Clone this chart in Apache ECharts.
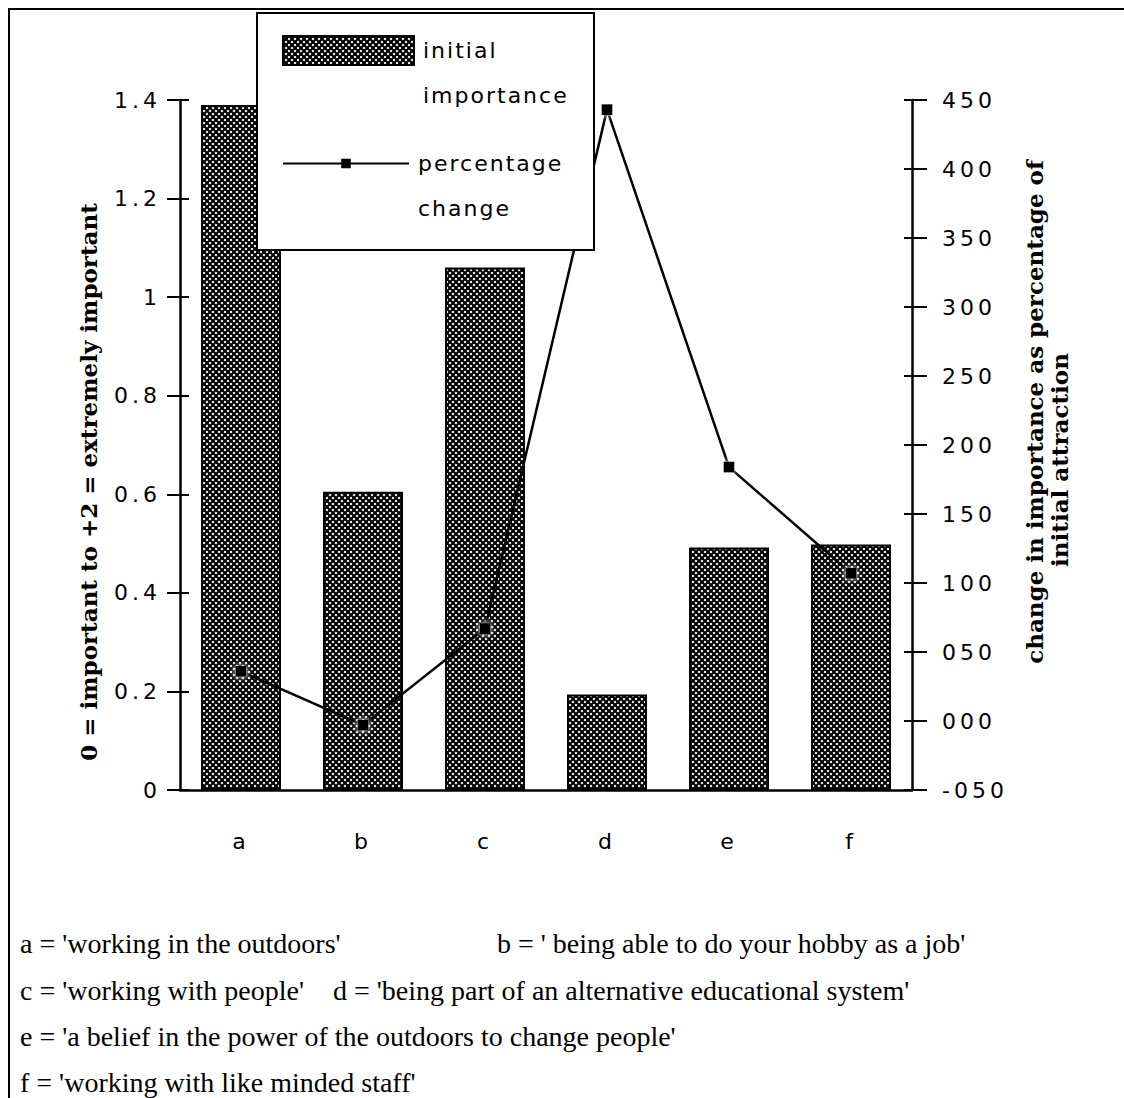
<!DOCTYPE html>
<html>
<head>
<meta charset="utf-8">
<script src="https://cdn.jsdelivr.net/npm/echarts@6/dist/echarts.min.js"></script>
<style>
  html, body { margin: 0; padding: 0; background: #fff; }
  #chart { width: 1124px; height: 1098px; }
  /* wide tracking for the axis tick labels and the legend text */
  #chart text[style*="Verdana"] { letter-spacing: 4px; }
  #chart text[style*="Geneva"] { letter-spacing: 2px; }
</style>
</head>
<body>
<div id="chart"></div>
<script>
// ---- data ----
const categories = ['a', 'b', 'c', 'd', 'e', 'f'];
const initialImportance = [1.39, 0.605, 1.06, 0.194, 0.492, 0.498];
const percentageChange = [36, -3, 67, 443, 184, 107];
const leftTickLabels = ['0', '0.2', '0.4', '0.6', '0.8', '1', '1.2', '1.4'];
const rightTickLabels = ['-050', '000', '050', '100', '150', '200', '250', '300', '350', '400', '450'];
const seriesNames = ['initial importance', 'percentage change'];
const legendLabels = ['initial\nimportance', 'percentage\nchange'];
const leftTitle = '0 = important to +2 = extremely important';
const rightTitle = ['change in importance as percentage of', 'initial attraction'];
const notes = [
  ["a = 'working in the outdoors'", "b = ' being able to do your hobby as a job'"],
  ["c = 'working with people'", "d = 'being part of an alternative educational system'"],
  ["e = 'a belief in the power of the outdoors to change people'"],
  ["f = 'working with like minded staff'"]
];

// ---- crosshatch tile used to fill the bars ----
function hatchTile() {
  const c = document.createElement('canvas');
  c.width = 6; c.height = 6;
  const g = c.getContext('2d');
  g.fillStyle = '#fff';
  g.fillRect(0, 0, 6, 6);
  g.strokeStyle = '#000';
  g.lineWidth = 2.1;
  for (const k of [-6, 0, 6]) {
    g.beginPath(); g.moveTo(k - 1, -1); g.lineTo(k + 7, 7); g.stroke();
    g.beginPath(); g.moveTo(k + 7, -1); g.lineTo(k - 1, 7); g.stroke();
  }
  return c;
}
const hatch = { image: hatchTile(), repeat: 'repeat', imageWidth: 6, imageHeight: 6 };

const AXIS_FONT = 'Verdana, "DejaVu Sans"';
const LEGEND_FONT = 'Geneva, "DejaVu Sans"';
const TITLE_FONT = '"DejaVu Serif"';
const NOTE_FONT = '"Liberation Serif", "Times New Roman", serif';
const black = '#000';

const LEFT = { min: 0, max: 1.4, interval: 0.2 };
const RIGHT = { min: -50, max: 450, interval: 50 };

function valueAxis(range, position, opts) {
  return Object.assign({
    type: 'value', position: position,
    min: range.min, max: range.max, interval: range.interval,
    splitLine: { show: false },
    axisLine: { show: false },
    axisTick: { show: false },
    axisLabel: { show: false }
  }, opts);
}

const chart = echarts.init(document.getElementById('chart'), null, { renderer: 'svg' });

const noteRows = [943, 990, 1036, 1082];
const noteCols = [[20, 497], [20, 333], [20], [20]];
const noteGraphics = [];
notes.forEach((row, r) => row.forEach((txt, i) => noteGraphics.push({
  type: 'text', x: noteCols[r][i], y: noteRows[r], z: 5,
  style: { text: txt, fontFamily: NOTE_FONT, fontSize: 28, fill: black, align: 'left', verticalAlign: 'middle' }
})));

// legend text: the first line sits level with the key, the second one below it
const legendText = name => '\n' + legendLabels[seriesNames.indexOf(name)];

chart.setOption({
  animation: false,
  backgroundColor: '#fff',
  grid: { left: 180, right: 212, top: 100, bottom: 308, containLabel: false },
  xAxis: [
    {
      type: 'category', data: categories, position: 'bottom',
      axisLine: { lineStyle: { color: black, width: 2.5 } },
      axisTick: { length: 12, lineStyle: { color: black, width: 2 } },
      axisLabel: { margin: 40, color: black, fontFamily: AXIS_FONT, fontSize: 22 }
    },
    {
      type: 'category', data: categories, position: 'bottom',
      axisLine: { show: false },
      axisTick: { inside: true, length: 8, lineStyle: { color: black, width: 2 } },
      axisLabel: { show: false }
    }
  ],
  yAxis: [
    valueAxis(LEFT, 'left', {
      axisLine: { show: true, lineStyle: { color: black, width: 2.5 } },
      axisTick: { show: true, length: 13, lineStyle: { color: black, width: 2 } },
      axisLabel: {
        show: true, margin: 19, color: black, fontFamily: AXIS_FONT, fontSize: 22,
        formatter: v => leftTickLabels[Math.round((v - LEFT.min) / LEFT.interval)]
      }
    }),
    valueAxis(LEFT, 'left', {
      axisTick: { show: true, inside: true, length: 9, lineStyle: { color: black, width: 2 } }
    }),
    valueAxis(RIGHT, 'right', {
      axisLine: { show: true, lineStyle: { color: black, width: 2.5 } },
      axisTick: { show: true, length: 15, lineStyle: { color: black, width: 2 } },
      axisLabel: {
        show: true, margin: 30, color: black, fontFamily: AXIS_FONT, fontSize: 22,
        formatter: v => rightTickLabels[Math.round((v - RIGHT.min) / RIGHT.interval)]
      }
    }),
    valueAxis(RIGHT, 'right', {
      axisTick: { show: true, inside: true, length: 8, lineStyle: { color: black, width: 2 } }
    })
  ],
  legend: [
    {
      z: 20, left: 282, top: -17, padding: 0, orient: 'vertical', selectedMode: false,
      itemWidth: 131, itemHeight: 29,
      data: [{ name: seriesNames[0], icon: 'rect', itemStyle: { borderColor: black, borderWidth: 2 } }],
      formatter: legendText,
      textStyle: { color: black, fontFamily: LEGEND_FONT, fontSize: 22, lineHeight: 45, padding: [0, 0, 0, 4] }
    },
    {
      z: 20, left: 282, top: 96, padding: 0, orient: 'vertical', selectedMode: false,
      itemWidth: 126, itemHeight: 12,
      data: [{ name: seriesNames[1] }],
      formatter: legendText,
      textStyle: { color: black, fontFamily: LEGEND_FONT, fontSize: 22, lineHeight: 45, padding: [0, 0, 0, 4] }
    }
  ],
  graphic: [
    // page frame
    { type: 'line', z: 1, shape: { x1: 8, y1: 9, x2: 1124, y2: 9 }, style: { stroke: black, lineWidth: 2 } },
    { type: 'line', z: 1, shape: { x1: 9, y1: 9, x2: 9, y2: 1098 }, style: { stroke: black, lineWidth: 2 } },
    // legend box
    { type: 'rect', z: 10, shape: { x: 257, y: 13, width: 337, height: 237 },
      style: { fill: '#fff', stroke: black, lineWidth: 2 } },
    // axis titles
    { type: 'text', x: 88, y: 482, rotation: Math.PI / 2, z: 5,
      style: { text: leftTitle, fontFamily: TITLE_FONT, fontWeight: 'bold', fontSize: 23, fill: black, align: 'center', verticalAlign: 'middle' } },
    { type: 'text', x: 1034, y: 412, rotation: Math.PI / 2, z: 5,
      style: { text: rightTitle[0], fontFamily: TITLE_FONT, fontWeight: 'bold', fontSize: 23, fill: black, align: 'center', verticalAlign: 'middle' } },
    { type: 'text', x: 1059, y: 460, rotation: Math.PI / 2, z: 5,
      style: { text: rightTitle[1], fontFamily: TITLE_FONT, fontWeight: 'bold', fontSize: 23, fill: black, align: 'center', verticalAlign: 'middle' } }
  ].concat(noteGraphics),
  series: [
    {
      name: seriesNames[0], type: 'bar', xAxisIndex: 0, yAxisIndex: 0,
      data: initialImportance, barWidth: 80, z: 2,
      itemStyle: { color: hatch, borderColor: black, borderWidth: 2 }
    },
    {
      name: seriesNames[1], type: 'line', xAxisIndex: 0, yAxisIndex: 2,
      data: percentageChange, z: 3,
      symbol: 'rect', symbolSize: 11,
      lineStyle: { color: black, width: 2.5 },
      itemStyle: { color: black, borderWidth: 0, shadowColor: '#fff', shadowBlur: 6 }
    }
  ]
});
</script>
</body>
</html>
